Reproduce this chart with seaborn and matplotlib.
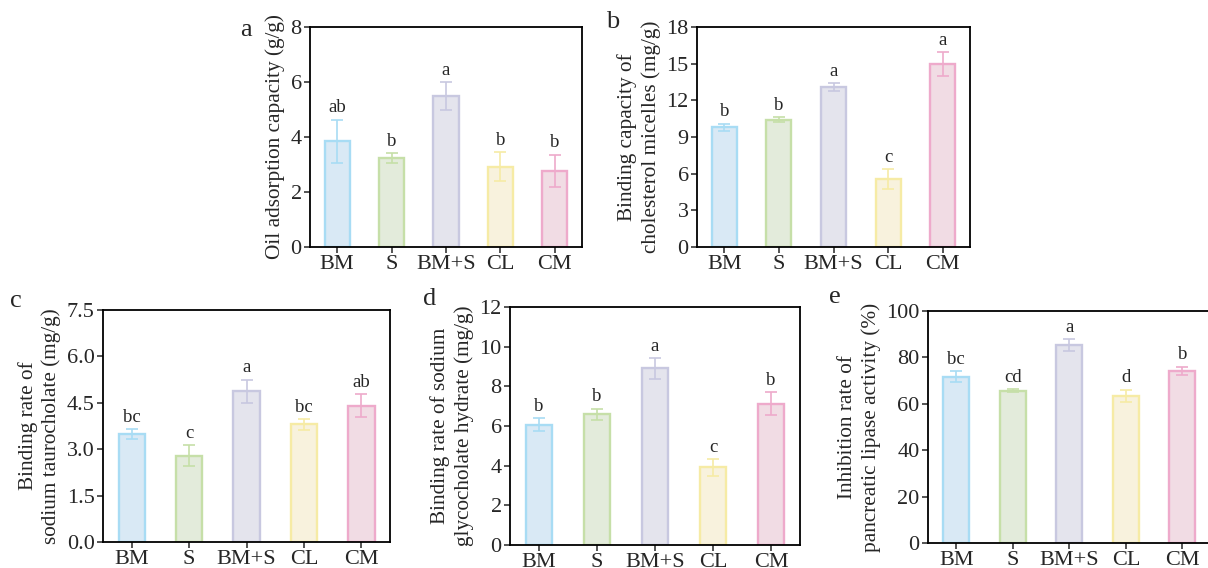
import numpy as np
import pandas as pd
import matplotlib
matplotlib.use("Agg")
import matplotlib.pyplot as plt
import seaborn as sns

# dados
grupos = ["BM", "S", "BM+S", "CL", "CM"]

oleo = [3.84, 3.24, 5.50, 2.92, 2.78]
oleo_err = [0.79, 0.17, 0.50, 0.53, 0.58]
oleo_letras = ["ab", "b", "a", "b", "b"]

colesterol = [9.79, 10.42, 13.07, 5.55, 14.96]
colesterol_err = [0.28, 0.19, 0.33, 0.80, 0.96]
colesterol_letras = ["b", "b", "a", "c", "a"]

taurocolato = [3.49, 2.78, 4.87, 3.80, 4.41]
taurocolato_err = [0.16, 0.34, 0.38, 0.17, 0.36]
taurocolato_letras = ["bc", "c", "a", "bc", "ab"]

glicocolato = [6.06, 6.59, 8.91, 3.91, 7.13]
glicocolato_err = [0.33, 0.27, 0.52, 0.42, 0.57]
glicocolato_letras = ["b", "b", "a", "c", "b"]

lipase = [71.7, 65.6, 85.4, 63.4, 74.2]
lipase_err = [2.3, 0.7, 2.5, 2.6, 1.8]
lipase_letras = ["bc", "cd", "a", "d", "b"]

# cores
cor_fundo = ["#d4eafa", "#e3edd9", "#e2e2ef", "#fdf5d8", "#f5d8e3"]
cor_borda = ["#a8dcf4", "#c6dfa8", "#c8c8e0", "#f6eba5", "#eeaacb"]

sns.set_style("ticks")
plt.rcParams["font.family"] = ["Liberation Serif", "DejaVu Serif"]

W, H = 1208, 568
fig = plt.figure(figsize=(W / 100, H / 100), dpi=100)

paineis = [
    # letra, pos letra (px), pos eixo, valores, erros, letras, ylabel, ylim, passo, formato
    ("a", (240, 30), [0.2566, 0.5651, 0.2252, 0.3873], oleo, oleo_err, oleo_letras,
     "Oil adsorption capacity (g/g)", 8, 2, "{:.0f}"),
    ("b", (606, 22), [0.5770, 0.5651, 0.2260, 0.3873], colesterol, colesterol_err, colesterol_letras,
     "Binding capacity of\ncholesterol micelles (mg/g)", 18, 3, "{:.0f}"),
    ("c", (10, 301), [0.0853, 0.0458, 0.2376, 0.4085], taurocolato, taurocolato_err, taurocolato_letras,
     "Binding rate of\nsodium taurocholate (mg/g)", 7.5, 1.5, "{:.1f}"),
    ("d", (423, 299), [0.4222, 0.0405, 0.2401, 0.4190], glicocolato, glicocolato_err, glicocolato_letras,
     "Binding rate of sodium\nglycocholate hydrate (mg/g)", 12, 2, "{:.0f}"),
    ("e", (829, 297), [0.7682, 0.0440, 0.2340, 0.4085], lipase, lipase_err, lipase_letras,
     "Inhibition rate of\npancreatic lipase activity (%)", 100, 20, "{:.0f}"),
]

for letra, lpos, pos, vals, errs, sig, ylab, ymax, passo, fmt in paineis:
    ax = fig.add_axes(pos)
    df = pd.DataFrame({"grupo": grupos, "valor": vals})
    sns.barplot(data=df, x="grupo", y="valor", hue="grupo", palette=cor_fundo,
                width=0.46, errorbar=None, legend=False, ax=ax)
    for i, p in enumerate(ax.patches):
        p.set_edgecolor(cor_borda[i])
        p.set_linewidth(1.7)
    for i in range(len(grupos)):
        ax.errorbar(i, vals[i], yerr=errs[i], fmt="none", ecolor=cor_borda[i],
                    elinewidth=1.2, capsize=4, capthick=1.2)
        ax.annotate(sig[i], (i, vals[i] + errs[i]), xytext=(0, 2.5),
                    textcoords="offset points", ha="center", va="bottom", fontsize=13.5)
    ax.set_xlim(-0.5, 4.5)
    ax.set_ylim(0, ymax)
    ticks = np.arange(0, ymax + passo / 2, passo)
    ax.set_yticks(ticks)
    ax.set_yticklabels([fmt.format(t) for t in ticks])
    ax.set_xlabel("")
    ax.set_ylabel(ylab, fontsize=15.3, labelpad=4, linespacing=1.25)
    ax.tick_params(axis="both", labelsize=16, length=4, width=1.1, direction="out", pad=2)
    for s in ax.spines.values():
        s.set_visible(True)
        s.set_linewidth(1.3)
        s.set_color("black")
    fig.text(lpos[0] / W, 1 - lpos[1] / H, letra, fontsize=19, ha="left", va="center")

fig.savefig("out.png", dpi=100)
